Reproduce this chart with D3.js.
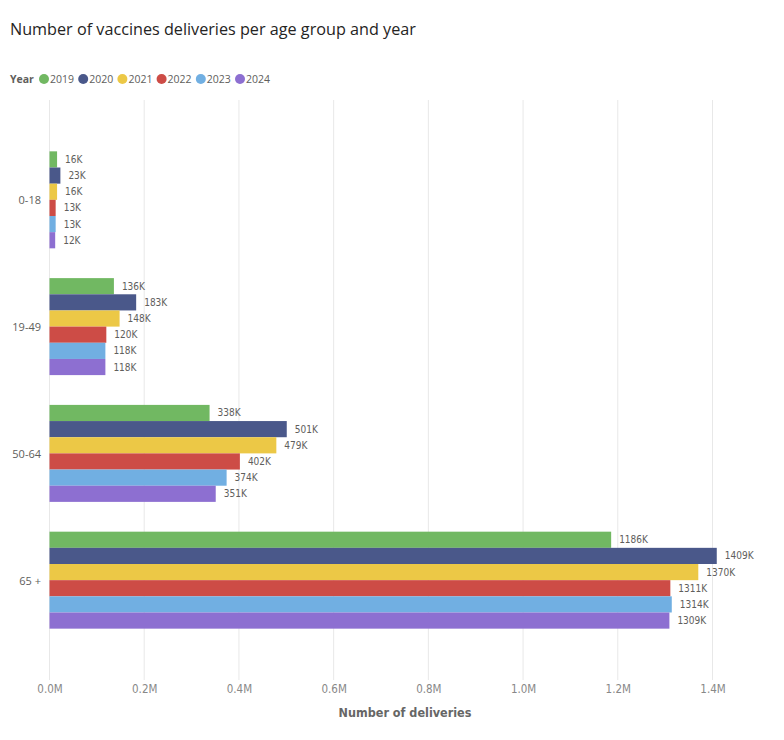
<!DOCTYPE html>
<html>
<head>
<meta charset="utf-8">
<script src="https://cdn.jsdelivr.net/npm/d3@7"></script>
<style>
  body { margin: 0; background: #fff; }
  .title { font-family: "Open Sans", "Noto Sans", sans-serif; font-size: 16.2px; fill: #252423; }
  .legend text { font-family: "Open Sans", "Noto Sans", sans-serif; font-size: 10.5px; fill: #605e5c; }
  .axis-y text { font-family: "Open Sans", "Noto Sans", sans-serif; font-size: 11px; fill: #605e5c; }
  .axis-x text { font-family: "Liberation Sans Narrow", "DejaVu Sans Condensed", sans-serif; font-size: 11.5px; fill: #888; }
  .bar-label { font-family: "DejaVu Sans Condensed", sans-serif; font-size: 10px; fill: #605e5c; }
  .axis-title { font-family: "Liberation Sans Narrow", "DejaVu Sans Condensed", sans-serif; font-size: 12.5px; font-weight: bold; fill: #666; }
</style>
</head>
<body>
<div class="chart"></div>
<script>
"use strict";

// Age groups (y categories) and years (series)
const ageGroups = ["0-18", "19-49", "50-64", "65 +"];
const years = ["2019", "2020", "2021", "2022", "2023", "2024"];
const yearColors = ["#71b862", "#4a588a", "#ecc846", "#cd4c46", "#71afe2", "#8d6fd1"];

// Deliveries in thousands, one array per year (order of ageGroups)
const values2019 = [16, 136, 338, 1186];
const values2020 = [23, 183, 501, 1409];
const values2021 = [16, 148, 479, 1370];
const values2022 = [13, 120, 402, 1311];
const values2023 = [13, 118, 374, 1314];
const values2024 = [12, 118, 351, 1309];
const seriesValues = [values2019, values2020, values2021, values2022, values2023, values2024];

const xTicks = [0, 0.2e6, 0.4e6, 0.6e6, 0.8e6, 1.0e6, 1.2e6, 1.4e6];

const data = [];
ageGroups.forEach((group, i) => {
  years.forEach((year, j) => {
    data.push({ group, year, value: seriesValues[j][i] * 1000 });
  });
});

const width = 784;
const height = 740;

const svg = d3.select(".chart")
  .append("svg")
    .attr("width", width)
    .attr("height", height);

// Title
svg.append("text")
    .attr("class", "title")
    .attr("x", 10)
    .attr("y", 35)
    .text("Number of vaccines deliveries per age group and year");

// Legend
const legend = svg.append("g")
    .attr("class", "legend")
    .attr("transform", "translate(10, 79)");

legend.append("text")
    .attr("x", 0)
    .attr("y", 4)
    .attr("font-weight", "bold")
    .text("Year");

// Legend items spaced evenly, like the Power BI legend
years.forEach((year, j) => {
  const lx = 29 + j * 39.2;
  legend.append("circle")
      .attr("cx", lx + 5)
      .attr("cy", 0)
      .attr("r", 5)
      .attr("fill", yearColors[j]);
  legend.append("text")
      .attr("x", lx + 11)
      .attr("y", 4)
      .text(year);
});

// Scales
const xScale = d3.scaleLinear()
  .domain([0, 1.4e6])
  .range([49.5, 712.5]);

const yScale = d3.scaleBand()
  .domain(ageGroups)
  .range([100, 680])
  .paddingInner(0.235)
  .paddingOuter(0.405);

const ySub = d3.scaleBand()
  .domain(years)
  .range([0, yScale.bandwidth()]);

const color = d3.scaleOrdinal()
  .domain(years)
  .range(yearColors);

// Gridlines
svg.append("g")
  .selectAll("line")
  .data(xTicks)
  .join("line")
    .attr("x1", d => xScale(d))
    .attr("x2", d => xScale(d))
    .attr("y1", 100)
    .attr("y2", 680)
    .attr("stroke", "#e8e8e8")
    .attr("stroke-width", 1);

// X axis
const xAxis = d3.axisBottom(xScale)
  .tickValues(xTicks)
  .tickFormat(d => (d / 1e6).toFixed(1) + "M")
  .tickSize(0)
  .tickPadding(0);

svg.append("g")
    .attr("class", "axis-x")
    .attr("transform", "translate(0, 685)")
    .call(xAxis)
    .call(g => g.select(".domain").remove());

svg.append("text")
    .attr("class", "axis-title")
    .attr("x", 405)
    .attr("y", 717)
    .attr("text-anchor", "middle")
    .text("Number of deliveries");

// Y axis
const yAxis = d3.axisLeft(yScale)
  .tickSize(0)
  .tickPadding(0);

svg.append("g")
    .attr("class", "axis-y")
    .attr("transform", "translate(41, 1)")
    .call(yAxis)
    .call(g => g.select(".domain").remove());

// Bars
const groups = svg.append("g")
  .selectAll("g")
  .data(ageGroups)
  .join("g")
    .attr("transform", d => `translate(0, ${yScale(d)})`);

groups.selectAll("rect")
  .data(g => data.filter(d => d.group === g))
  .join("rect")
    .attr("x", xScale(0))
    .attr("y", d => ySub(d.year))
    .attr("width", d => xScale(d.value) - xScale(0))
    .attr("height", ySub.bandwidth())
    .attr("fill", d => color(d.year));

groups.selectAll("text")
  .data(g => data.filter(d => d.group === g))
  .join("text")
    .attr("class", "bar-label")
    .attr("x", d => xScale(d.value) + 8)
    .attr("y", d => ySub(d.year) + ySub.bandwidth() / 2)
    .attr("dy", "0.35em")
    .text(d => Math.round(d.value / 1000) + "K");
</script>
</body>
</html>
